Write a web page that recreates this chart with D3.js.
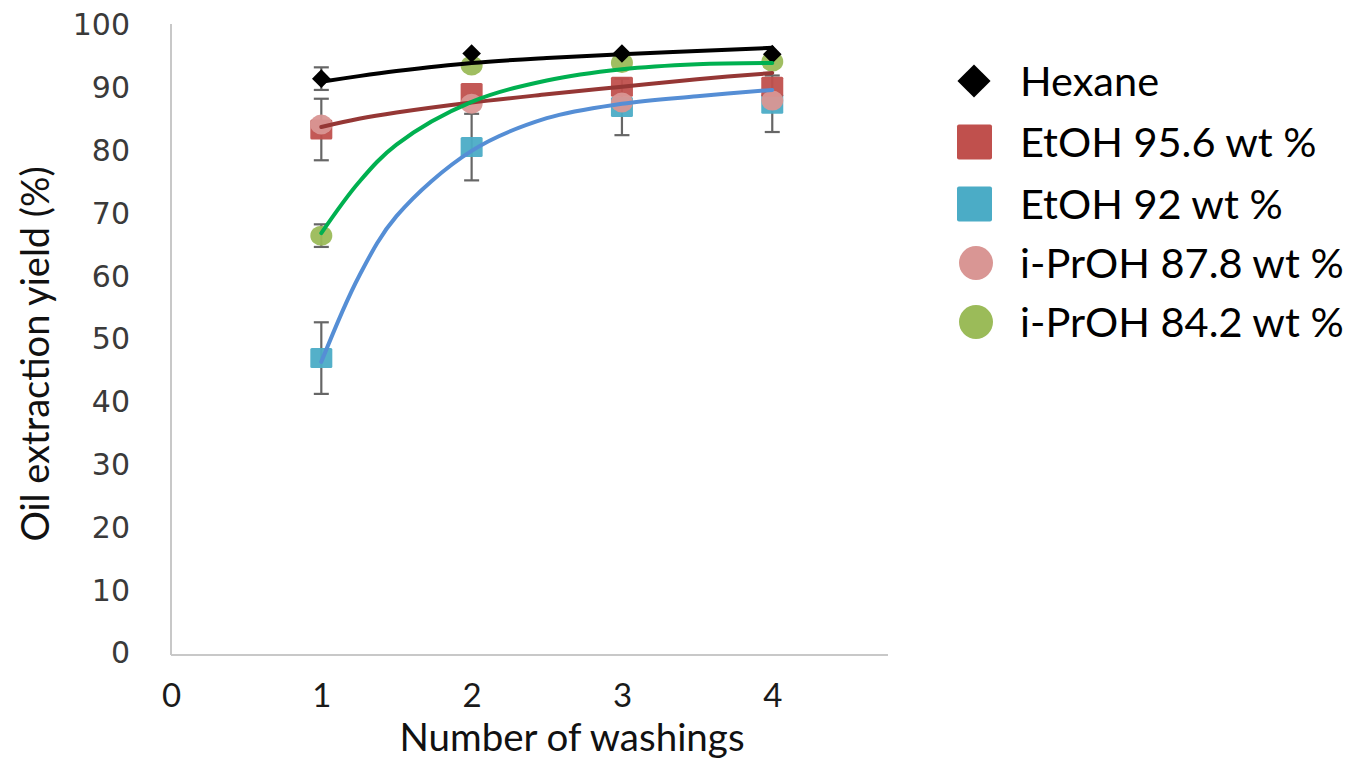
<!DOCTYPE html>
<html>
<head>
<meta charset="utf-8">
<script src="https://cdn.jsdelivr.net/npm/d3@7/dist/d3.min.js"></script>
<style>
html,body{margin:0;padding:0;background:#fff;}
svg{display:block;}
</style>
</head>
<body>
<svg id="chart" width="1354" height="761"></svg>
<script>
// ---- data ----
const washings = [1, 2, 3, 4];
const xTicks = [0, 1, 2, 3, 4];
const yTicks = [0, 10, 20, 30, 40, 50, 60, 70, 80, 90, 100];

const seriesNames = ["Hexane", "EtOH 95.6 wt %", "EtOH 92 wt %", "i-PrOH 87.8 wt %", "i-PrOH 84.2 wt %"];
const hexane   = [91.3, 95.3, 95.3, 95.2];
const etoh956  = [83.2, 89.0, 90.0, 90.0];
const etoh92   = [46.8, 80.4, 86.8, 87.3];
const ipa878   = [84.0, 87.3, 87.5, 87.8];
const ipa842   = [66.3, 93.4, 93.8, 94.0];

const hexaneErr  = [1.8, 0, 0, 0];
const etoh956Err = [4.9, 0, 0, 0];
const etoh92Err  = [5.7, 5.3, 4.5, 4.5];
const ipa878Err  = [0, 0, 0, 0];
const ipa842Err  = [1.8, 0, 0, 0];

// trend lines
const trendX       = [1, 1.25, 1.5, 2, 2.5, 3, 3.5, 4];
const hexaneTrend  = [90.8, 91.7, 92.5, 93.8, 94.6, 95.2, 95.7, 96.2];
const etoh956Trend = [83.6, 84.9, 85.9, 87.5, 88.8, 90.0, 91.2, 92.2];
const etoh92Trend  = [46.2, 59.8, 69.4, 79.8, 85.0, 87.3, 88.5, 89.5];
const ipa842Trend  = [66.7, 74.8, 80.8, 87.6, 91.0, 92.8, 93.6, 93.8];

// ---- layout ----
const svg = d3.select("#chart");
const x = d3.scaleLinear().domain([0, 4.77]).range([171, 888]);
const y = d3.scaleLinear().domain([0, 100]).range([652, 24]);

const colors = {
  hexane: "#000000",
  etoh956: "#c0504d",
  etoh92: "#4bacc6",
  ipa878: "#d99694",
  ipa842: "#9bbb59"
};
const lineColors = {
  hexane: "#000000",
  etoh956: "#953735",
  etoh92: "#558ed5",
  ipa842: "#00b050"
};

// axes lines
svg.append("line").attr("x1", x(0)).attr("x2", x(0)).attr("y1", y(100)).attr("y2", 655)
  .attr("stroke", "#c8c8c8").attr("stroke-width", 2);
svg.append("line").attr("x1", x(0)).attr("x2", x(4.77)).attr("y1", 655).attr("y2", 655)
  .attr("stroke", "#c8c8c8").attr("stroke-width", 2);

// y tick labels via axis
const yAxis = d3.axisLeft(y).tickValues(yTicks).tickSize(0).tickPadding(0);
const yg = svg.append("g").attr("transform", "translate(130,0)").call(yAxis);
yg.select(".domain").remove();
yg.selectAll("text").attr("font-family", "DejaVu Sans").attr("font-size", 30)
  .attr("fill", "#3a3a3a").attr("dy", "0.36em");

// x tick labels via axis
const xAxis = d3.axisBottom(x).tickValues(xTicks).tickSize(0).tickPadding(0).tickFormat(d3.format("d"));
const xg = svg.append("g").attr("transform", "translate(0,683)").call(xAxis);
xg.select(".domain").remove();
xg.selectAll("text").attr("font-family", "Lato").attr("font-size", 33)
  .attr("fill", "#1a1a1a").attr("dy", "0.72em");

// axis titles
svg.append("text").attr("x", 572).attr("y", 751).attr("text-anchor", "middle")
  .attr("font-family", "Lato").attr("font-size", 38.5).attr("fill", "#111")
  .text("Number of washings");
svg.append("text").attr("transform", "translate(49,354) rotate(-90)").attr("text-anchor", "middle")
  .attr("font-family", "Lato").attr("font-size", 38).attr("fill", "#111")
  .text("Oil extraction yield (%)");

// ---- error bars ----
const errSets = [
  {v: etoh92, e: etoh92Err},
  {v: etoh956, e: etoh956Err},
  {v: ipa878, e: ipa878Err},
  {v: ipa842, e: ipa842Err},
  {v: hexane, e: hexaneErr}
];
const eg = svg.append("g").attr("stroke", "#666").attr("stroke-width", 2.2);
errSets.forEach(s => {
  washings.forEach((w, i) => {
    if (!s.e[i]) return;
    const cx = x(w), y1 = y(s.v[i] + s.e[i]), y2 = y(s.v[i] - s.e[i]);
    eg.append("line").attr("x1", cx).attr("x2", cx).attr("y1", y1).attr("y2", y2);
    eg.append("line").attr("x1", cx - 7.5).attr("x2", cx + 7.5).attr("y1", y1).attr("y2", y1);
    eg.append("line").attr("x1", cx - 7.5).attr("x2", cx + 7.5).attr("y1", y2).attr("y2", y2);
  });
});

// ---- markers ----
const mg = svg.append("g");
function squares(vals, color) {
  mg.selectAll(null).data(washings).enter().append("rect")
    .attr("x", d => x(d) - 11).attr("y", (d, i) => y(vals[i]) - 10)
    .attr("width", 22).attr("height", 20).attr("rx", 1.5)
    .attr("fill", color).attr("fill-opacity", 0.95);
}
function circles(vals, color) {
  mg.selectAll(null).data(washings).enter().append("ellipse")
    .attr("cx", d => x(d)).attr("cy", (d, i) => y(vals[i]))
    .attr("rx", 11).attr("ry", 10)
    .attr("fill", color).attr("fill-opacity", 0.95);
}
squares(etoh92, colors.etoh92);
squares(etoh956, colors.etoh956);
circles(ipa878, colors.ipa878);
circles(ipa842, colors.ipa842);
mg.selectAll(null).data(washings).enter().append("path")
  .attr("d", d3.symbol().type(d3.symbolDiamond2).size(220))
  .attr("transform", (d, i) => `translate(${x(d)},${y(hexane[i])})`)
  .attr("fill", colors.hexane);

// ---- trend lines ----
const line = d3.line().x((d, i) => x(trendX[i])).y(d => y(d)).curve(d3.curveCatmullRom.alpha(0.5));
[[etoh956Trend, lineColors.etoh956], [etoh92Trend, lineColors.etoh92],
 [ipa842Trend, lineColors.ipa842], [hexaneTrend, lineColors.hexane]].forEach(([vals, c]) => {
  svg.append("path").datum(vals).attr("d", line).attr("fill", "none")
    .attr("stroke", c).attr("stroke-width", 4).attr("stroke-linecap", "round");
});

// ---- legend ----
const legendRows = [81, 142, 204, 263, 322];
const lg = svg.append("g");
seriesNames.forEach((name, i) => {
  const cy = legendRows[i];
  if (i === 0) {
    lg.append("path").attr("d", d3.symbol().type(d3.symbolDiamond2).size(700))
      .attr("transform", `translate(974,${cy})`).attr("fill", "#000");
  } else if (i === 1 || i === 2) {
    lg.append("rect").attr("x", 957).attr("y", cy - 17.5).attr("width", 35).attr("height", 35)
      .attr("rx", 2).attr("fill", i === 1 ? colors.etoh956 : colors.etoh92);
  } else {
    lg.append("circle").attr("cx", 976).attr("cy", cy).attr("r", 17)
      .attr("fill", i === 3 ? colors.ipa878 : colors.ipa842);
  }
  lg.append("text").attr("x", 1020).attr("y", cy).attr("dy", "0.36em")
    .attr("font-family", "Lato").attr("font-size", 41.5).attr("fill", "#000")
    .text(name);
});
</script>
</body>
</html>
